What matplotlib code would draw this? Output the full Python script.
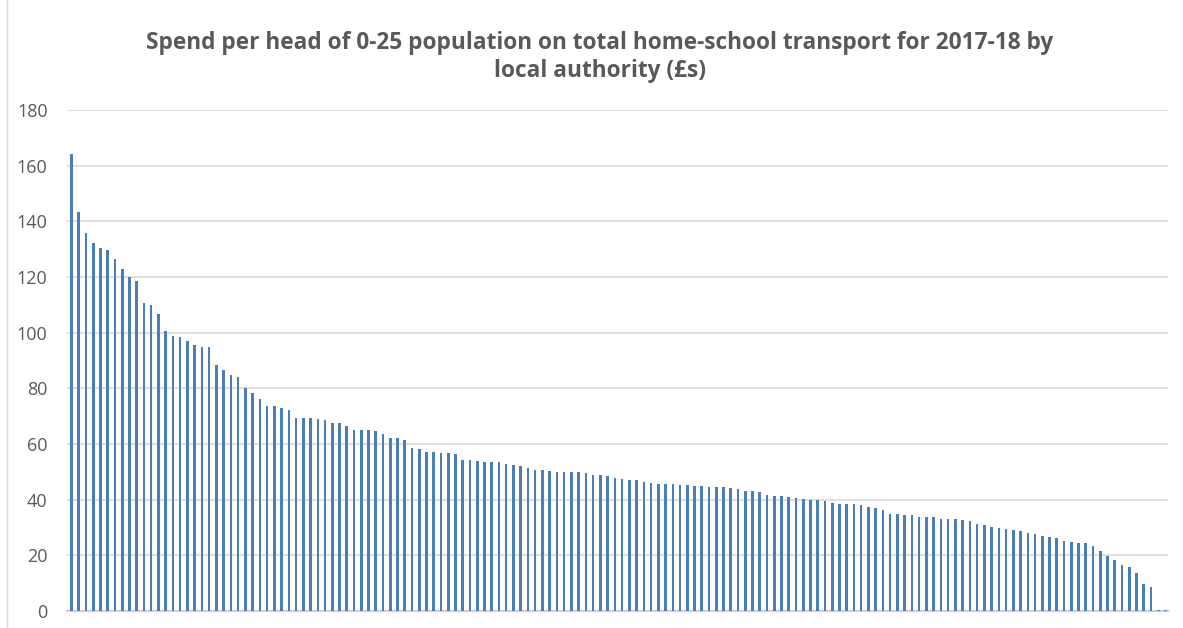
import matplotlib.pyplot as plt
from matplotlib.lines import Line2D

# spend per head (GBP) per local authority, sorted high to low
spend = [
  164.3, 143.2, 135.9, 132.3, 130.4, 129.8, 126.6, 122.9, 119.9, 118.4,
  110.7, 110.1, 106.8, 100.5, 98.9, 98.4, 97.0, 95.6, 95.0, 95.0,
  88.5, 86.6, 84.8, 84.0, 80.2, 78.5, 76.2, 73.5, 73.5, 72.9,
  72.3, 69.5, 69.5, 69.2, 68.9, 68.6, 67.4, 67.4, 66.5, 65.1,
  65.1, 65.1, 64.8, 63.6, 62.3, 62.0, 61.3, 58.4, 58.1, 57.2,
  57.2, 56.9, 56.6, 56.3, 54.3, 54.3, 53.9, 53.7, 53.7, 53.4,
  52.8, 52.5, 52.2, 51.3, 50.5, 50.5, 50.2, 49.9, 49.9, 49.9,
  49.9, 49.7, 48.9, 48.9, 48.5, 47.9, 47.3, 47.1, 47.1, 46.2,
  46.0, 45.6, 45.6, 45.6, 45.3, 45.3, 44.9, 44.9, 44.4, 44.4,
  44.4, 44.1, 43.8, 43.2, 43.0, 42.6, 41.7, 41.4, 41.4, 41.1,
  40.6, 40.4, 39.9, 39.8, 39.5, 38.9, 38.3, 38.3, 38.3, 38.1,
  37.5, 37.1, 36.3, 35.0, 34.7, 34.5, 34.5, 33.9, 33.7, 33.7,
  33.1, 32.9, 32.9, 32.6, 32.2, 31.1, 30.8, 30.2, 29.7, 29.3,
  29.2, 28.9, 28.2, 27.7, 27.0, 26.5, 26.2, 25.1, 24.8, 24.5,
  24.5, 23.3, 21.6, 19.6, 18.4, 16.6, 15.8, 13.7, 9.7, 8.8,
  0.3, 0.3,
]
yticks = [0, 20, 40, 60, 80, 100, 120, 140, 160, 180]
title = 'Spend per head of 0-25 population on total home-school transport for 2017-18 by\nlocal authority (£s)'

plt.rcParams['font.family'] = ['Open Sans', 'DejaVu Sans']

fig = plt.figure(figsize=(11.83, 6.28), dpi=100)
ax = fig.add_axes([67/1183, 17/628, 1101/1183, 501/628])

ax.bar(range(len(spend)), spend, width=0.36, color='#4a7ebb', zorder=3)
ax.set_xlim(-0.62, len(spend) - 0.65)
ax.set_ylim(0, 180)
ax.set_yticks(yticks)
ax.set_xticks([])
ax.grid(axis='y', color='#d9d9d9', linewidth=1.2, zorder=0)
for s in ['top', 'right', 'left']:
  ax.spines[s].set_visible(False)
ax.spines['bottom'].set_color('#d0d0d0')
ax.spines['bottom'].set_linewidth(1.5)
ax.tick_params(axis='y', length=0, pad=14, labelsize=13, labelcolor='#595959')

fig.text(0.507, 0.909, title, ha='center', va='center', fontsize=16.3,
         fontweight='bold', color='#595959', linespacing=1.2)

# left border of the chart area
fig.add_artist(Line2D([7/1183, 7/1183], [0, 1], color='#d9d9d9', linewidth=1))

fig.savefig('out.png', dpi=100)
